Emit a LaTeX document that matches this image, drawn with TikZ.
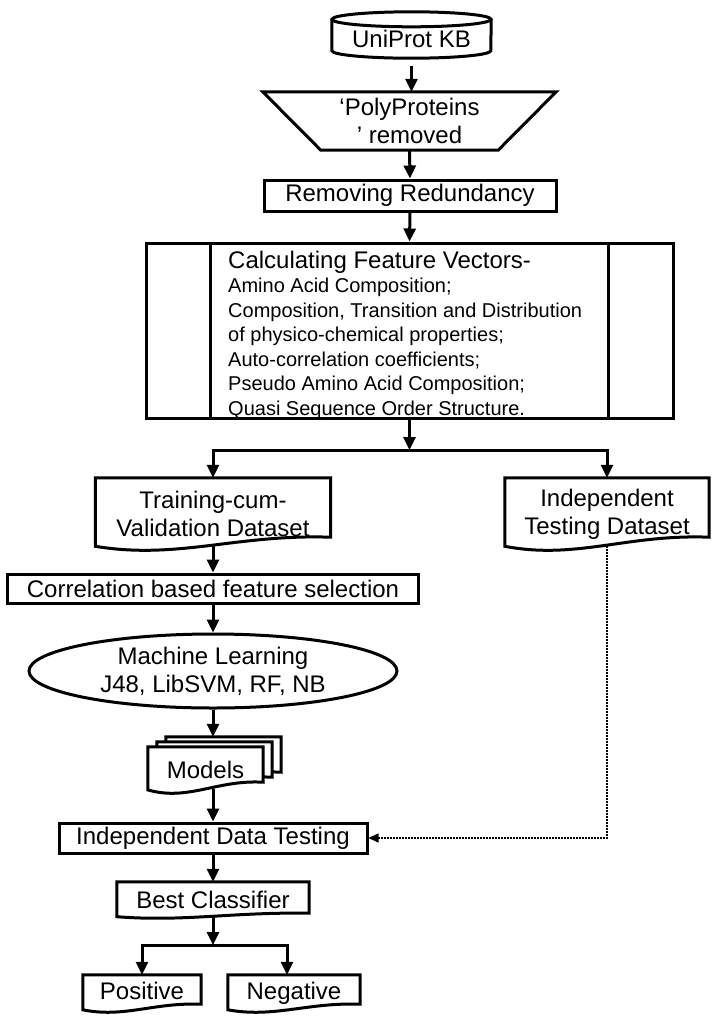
\documentclass[tikz,border=0pt]{standalone}
\usepackage{fontspec}
\setmainfont{Liberation Sans}
\usetikzlibrary{shapes.geometric, arrows.meta, calc}

\tikzstyle{thickline} = [line width=3pt]
\tikzstyle{plain} = [rectangle, inner sep=0pt, font=\fontsize{24}{28}\selectfont, align=center]
\tikzstyle{process} = [plain, draw, thickline, minimum height=30pt]
\tikzstyle{data} = [plain]
\tikzstyle{learner} = [ellipse, draw, thickline, inner sep=0pt, font=\fontsize{24}{28}\selectfont, align=center]
\tikzstyle{arrow} = [thickline, -{Triangle[length=13pt,width=12pt]}]
\tikzstyle{dotarrow} = [line width=1.5pt, dash pattern=on 1.5pt off 1.5pt, -{Triangle[length=10pt,width=9pt]}]

% document outline with wavy bottom: [options]{node}{wave depth}
\newcommand{\docshape}[3][]{%
  \draw[thickline, #1] ([yshift=0.3*#3pt]#2.south west) -- (#2.north west) -- (#2.north east)
    -- ([yshift=#3pt]#2.south east)
    .. controls ($(#2.south west)!0.6!(#2.south east)+(0pt,1.25*#3pt)$)
    and ($(#2.south west)!0.35!(#2.south east)+(0pt,-0.75*#3pt)$)
    .. ([yshift=0.3*#3pt]#2.south west) -- cycle;}

\begin{document}
\begin{tikzpicture}[x=1pt, y=-1pt]
	\useasboundingbox (0,0) rectangle (719,1021);

	% source database
	\node (uni) [plain, minimum width=159pt, minimum height=38.5pt] at (411.5,38.75) {UniProt KB};
	\draw [thickline] (uni.north west) -- ([yshift=7.5pt]uni.south west) arc[start angle=180, end angle=360, x radius=79.5pt, y radius=7.5pt] -- (uni.north east);
	\draw [thickline] (uni.north) ellipse [x radius=79.5pt, y radius=7.5pt];

	% manual filtering
	\node (poly) [plain, minimum width=293pt, minimum height=58pt] at (409.5,121) {‘PolyProteins\\’ removed};
	\draw [thickline] (poly.north west) -- (poly.north east) -- ([xshift=-58pt]poly.south east) -- ([xshift=58pt]poly.south west) -- cycle;

	\node (red) [process, minimum width=292pt, minimum height=31pt] at (410,195.5) {Removing Redundancy};

	% predefined process
	\node (feat) [process, minimum width=527pt, minimum height=175pt] at (409.5,330.5) {};
	\draw [thickline] ([xshift=66pt]feat.north west) -- ([xshift=66pt]feat.south west);
	\draw [thickline] ([xshift=-66pt]feat.north east) -- ([xshift=-66pt]feat.south east);
	\node (feattext) [anchor=north west, inner sep=0pt, align=left, font=\fontsize{20}{24.5}\selectfont] at (228,251.4)
		{{\fontsize{24}{24.5}\selectfont Calculating Feature Vectors-}\\[-0.9pt]
		Amino Acid Composition;\\
		Composition, Transition and Distribution\\
		of physico-chemical properties;\\
		Auto-correlation coefficients;\\
		Pseudo Amino Acid Composition;\\
		Quasi Sequence Order Structure.};

	\coordinate (split) at (409.5,450);

	% datasets
	\node (tcv) [data, minimum width=235pt, minimum height=72pt] at (213,514) {Training-cum-\\Validation Dataset};
	\node (itd) [data, minimum width=204pt, minimum height=72pt] at (607,514) {Independent\\Testing Dataset};
	\docshape{tcv}{13}
	\docshape{itd}{13}

	\node (cfs) [process, minimum width=411pt, minimum height=29pt] at (213,588.5) {Correlation based feature selection};
	\node (ml) [learner, minimum width=368pt, minimum height=74pt] at (213,671) {Machine Learning\\J48, LibSVM, RF, NB};

	% stack of models
	\node (mod3) [data, minimum width=115pt, minimum height=46pt] at (223.5,760) {};
	\docshape[fill=white]{mod3}{11}
	\node (mod2) [data, minimum width=115pt, minimum height=46pt] at (214.5,765) {};
	\docshape[fill=white]{mod2}{11}
	\node (mod1) [data, minimum width=115pt, minimum height=46pt] at (205.5,770) {};
	\docshape[fill=white]{mod1}{11}
	\node (modtext) [plain] at (mod1) {Models};

	\node (idt) [process, minimum width=308pt, minimum height=30pt] at (213,838) {Independent Data Testing};
	\node (best) [data, minimum width=192pt, minimum height=36pt] at (213,900) {Best Classifier};
	\docshape{best}{5}

	\coordinate (split2) at (213,945);
	\node (pos) [data, minimum width=118pt, minimum height=37pt, text height=17pt, text depth=5pt] at (142,993.5) {Positive};
	\node (neg) [data, minimum width=132pt, minimum height=37pt, text height=17pt, text depth=5pt] at (294,993.5) {Negative};
	\docshape{pos}{8}
	\docshape{neg}{8}

	% connectors
	\draw [arrow] ([yshift=-7.5pt]uni.south) -- (poly.north -| uni.south);
	\draw [arrow] (poly.south) -- (red.north);
	\draw [arrow] (red.south) -- (feat.south |- feat.north);
	\draw [arrow] (feat.south) -- (split);
	\draw [arrow] (split) -| (tcv.north);
	\draw [arrow] (split) -| (itd.north);
	\draw [arrow] ([yshift=5pt]tcv.south) -- (cfs.north);
	\draw [arrow] (cfs.south) -- (ml.north);
	\draw [arrow] (ml.south) -- (ml.south |- mod3.north);
	\draw [arrow] ($(mod1.south -| idt.north)+(0pt,4pt)$) -- (idt.north);
	\draw [arrow] (idt.south) -- (best.north);
	\draw [arrow] ([yshift=3pt]best.south) -- (split2);
	\draw [arrow] (split2) -| (pos.north);
	\draw [arrow] (split2) -| ([xshift=-7pt]neg.north);
	\draw [dotarrow] ([yshift=4pt]itd.south) |- (idt.east);
\end{tikzpicture}
\end{document}
